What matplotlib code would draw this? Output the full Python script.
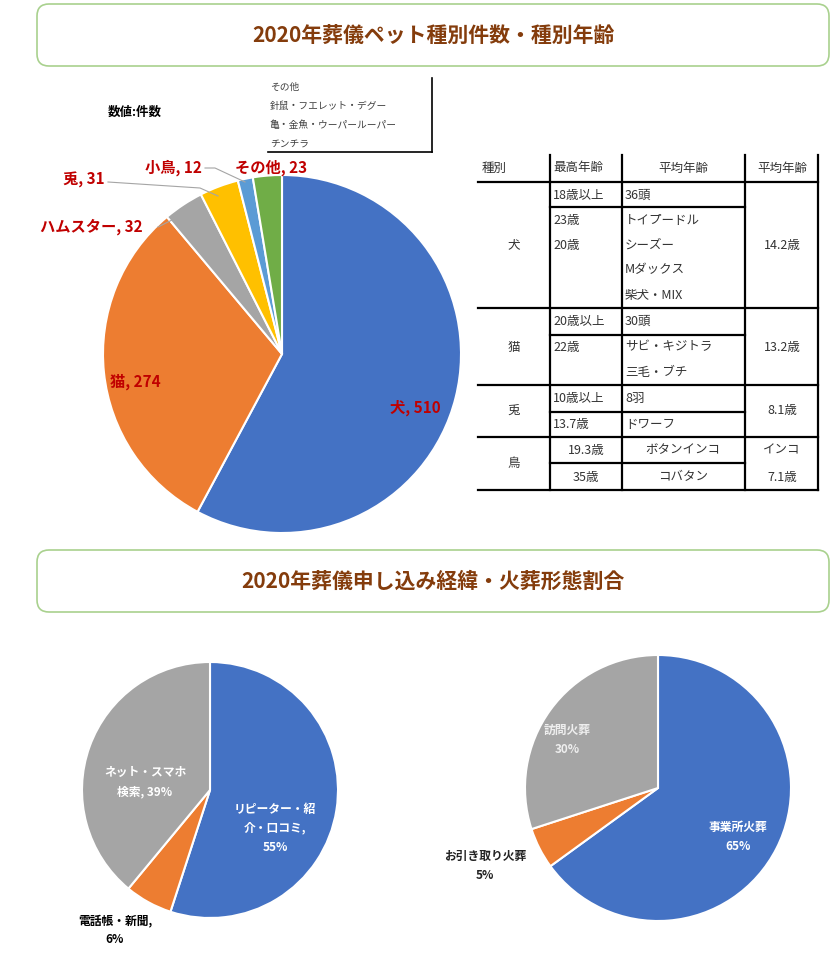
import matplotlib
matplotlib.use("Agg")
import matplotlib.pyplot as plt
from matplotlib.patches import FancyBboxPatch

plt.rcParams["font.family"] = ["Noto Sans CJK JP", "DejaVu Sans"]

# top pie: pets by type
pet_names = ["犬", "猫", "ハムスター", "兎", "小鳥", "その他"]
pet_counts = [510, 274, 32, 31, 12, 23]
pet_colors = ["#4472C4", "#ED7D31", "#A5A5A5", "#FFC000", "#5B9BD5", "#70AD47"]

# bottom left: application route
route_names = ["リピーター・紹\n介・口コミ,\n55%", "電話帳・新聞,\n6%", "ネット・スマホ\n検索, 39%"]
route_share = [55, 6, 39]
# bottom right: cremation type
crem_names = ["事業所火葬\n65%", "お引き取り火葬\n5%", "訪問火葬\n30%"]
crem_share = [65, 5, 30]
pie3_colors = ["#4472C4", "#ED7D31", "#A5A5A5"]

other_lines = ["その他", "針鼠・フエレット・デグー", "亀・金魚・ウーパールーパー", "チンチラ"]

W, H = 834, 955
fig = plt.figure(figsize=(W / 100, H / 100), dpi=100)


def px_axes(zorder):
    ax = fig.add_axes([0, 0, 1, 1], zorder=zorder)
    ax.set_xlim(0, W)
    ax.set_ylim(H, 0)
    ax.axis("off")
    ax.patch.set_alpha(0)
    return ax


bg = px_axes(0)

TITLE_C = "#843C0C"
for y0, y1, txt in [(4, 66, "2020年葬儀ペット種別件数・種別年齢"), (550, 612, "2020年葬儀申し込み経緯・火葬形態割合")]:
    bg.add_patch(FancyBboxPatch((37, y0), 792, y1 - y0, boxstyle="round,pad=0,rounding_size=12",
                                fc="white", ec="#A9D18E", lw=1.2))
    bg.text(433, (y0 + y1) / 2, txt, ha="center", va="center", fontsize=15, fontweight="bold", color=TITLE_C)


def add_pie(cx, cy, r, values, colors):
    ax = fig.add_axes([(cx - r) / W, 1 - (cy + r) / H, 2 * r / W, 2 * r / H], zorder=1)
    ax.pie(values, colors=colors, startangle=90, counterclock=False, radius=1,
           wedgeprops=dict(edgecolor="white", linewidth=1.5))
    ax.set_xlim(-1, 1)
    ax.set_ylim(-1, 1)
    ax.set_aspect("auto")
    return ax


add_pie(282, 354, 179, pet_counts, pet_colors)
add_pie(210, 790, 128, route_share, pie3_colors)
add_pie(658, 788, 133, crem_share, pie3_colors)

fg = px_axes(2)

# top pie labels
RED = "#C00000"
lab_pos = [(390, 408), (110, 382), (40, 227), (63, 180), (145, 168), (235, 168)]
for (x, y), n, v in zip(lab_pos, pet_names, pet_counts):
    fg.text(x, y, f"{n}, {v}", ha="left", va="center", fontsize=11, fontweight="bold", color=RED)
fg.plot([158, 172, 183], [227, 220, 220], color="#A5A5A5", lw=0.8)
fg.plot([108, 200, 218], [182, 188, 196], color="#A5A5A5", lw=0.8)
fg.plot([205, 215, 245], [168, 168, 182], color="#A5A5A5", lw=0.8)

fg.text(108, 112, "数値:件数", ha="left", va="center", fontsize=9, fontweight="bold")
for i, t in enumerate(other_lines):
    fg.text(270, 87 + i * 19, t, ha="left", va="center", fontsize=7, color="#404040")
fg.plot([432, 432], [78, 152], color="black", lw=1.2)
fg.plot([268, 432], [152, 152], color="black", lw=1.2)

# table
cols = [478, 550, 622, 745, 818]
tk = 1.6
for x in cols[1:]:
    bg.plot([x, x], [155, 490], color="black", lw=tk)
for y in [182, 308, 385, 437, 490]:
    bg.plot([cols[0], cols[4]], [y, y], color="black", lw=tk)
for y in [207, 335, 412, 463]:
    bg.plot([cols[1], cols[3]], [y, y], color="black", lw=tk)

fs = 9
tc = "#333333"
cells = [
    (482, 168, "種別", "left"), (553, 168, "最高年齢", "left"), (683, 168, "平均年齢", "center"), (782, 168, "平均年齢", "center"),
    (553, 195, "18歳以上", "left"), (625, 195, "36頭", "left"),
    (553, 220, "23歳", "left"), (553, 245, "20歳", "left"),
    (625, 220, "トイプードル", "left"), (625, 245, "シーズー", "left"),
    (625, 270, "Mダックス", "left"), (625, 295, "柴犬・MIX", "left"),
    (514, 245, "犬", "center"), (782, 245, "14.2歳", "center"),
    (553, 321, "20歳以上", "left"), (625, 321, "30頭", "left"),
    (553, 347, "22歳", "left"), (625, 347, "サビ・キジトラ", "left"), (625, 372, "三毛・ブチ", "left"),
    (514, 347, "猫", "center"), (782, 347, "13.2歳", "center"),
    (553, 398, "10歳以上", "left"), (625, 398, "8羽", "left"),
    (553, 424, "13.7歳", "left"), (625, 424, "ドワーフ", "left"),
    (514, 410, "兎", "center"), (782, 410, "8.1歳", "center"),
    (586, 450, "19.3歳", "center"), (683, 450, "ボタンインコ", "center"), (782, 450, "インコ", "center"),
    (586, 477, "35歳", "center"), (683, 477, "コバタン", "center"), (782, 477, "7.1歳", "center"),
    (514, 463, "鳥", "center"),
]
for x, y, t, ha in cells:
    bg.text(x, y, t, ha=ha, va="center", fontsize=fs, color=tc)

# bottom labels
route_pos = [(275, 828, "white"), (115, 930, "black"), (145, 782, "white")]
for (x, y, c), t in zip(route_pos, route_names):
    fg.text(x, y, t, ha="center", va="center", fontsize=8.5, fontweight="bold", color=c, linespacing=1.6)
crem_pos = [(738, 837, "white"), (485, 866, "#222222"), (567, 740, "#EEEEEE")]
for (x, y, c), t in zip(crem_pos, crem_names):
    fg.text(x, y, t, ha="center", va="center", fontsize=8.5, fontweight="bold", color=c, linespacing=1.6)

fig.savefig("out.png", dpi=100)
